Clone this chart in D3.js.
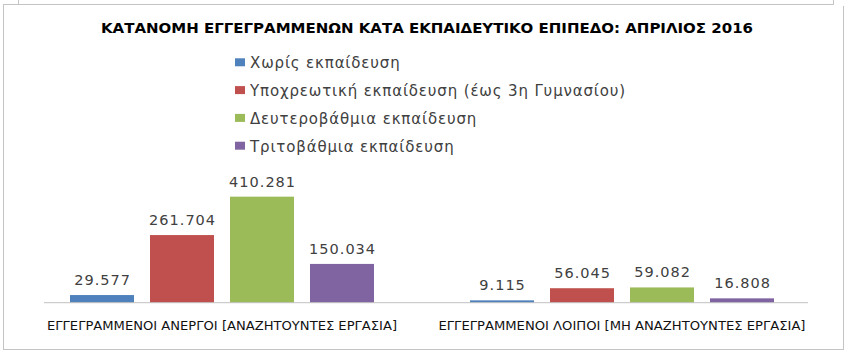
<!DOCTYPE html>
<html><head><meta charset="utf-8">
<script src="https://cdn.jsdelivr.net/npm/d3@7"></script>
<style>
html,body{margin:0;padding:0;background:#fff;}
svg{display:block;}
</style></head>
<body>
<svg id="chart" width="850" height="355"></svg>
<script>
const title = "ΚΑΤΑΝΟΜΗ ΕΓΓΕΓΡΑΜΜΕΝΩΝ ΚΑΤΑ ΕΚΠΑΙΔΕΥΤΙΚΟ ΕΠΙΠΕΔΟ: ΑΠΡΙΛΙΟΣ 2016";
const categories = ["ΕΓΓΕΓΡΑΜΜΕΝΟΙ ΑΝΕΡΓΟΙ [ΑΝΑΖΗΤΟΥΝΤΕΣ ΕΡΓΑΣΙΑ]", "ΕΓΓΕΓΡΑΜΜΕΝΟΙ ΛΟΙΠΟΙ [ΜΗ ΑΝΑΖΗΤΟΥΝΤΕΣ ΕΡΓΑΣΙΑ]"];
const seriesNames = ["Χωρίς εκπαίδευση", "Υποχρεωτική εκπαίδευση (έως 3η Γυμνασίου)", "Δευτεροβάθμια εκπαίδευση", "Τριτοβάθμια εκπαίδευση"];
const noEducation = [29577, 9115];
const compulsory = [261704, 56045];
const secondary = [410281, 59082];
const tertiary = [150034, 16808];
const seriesValues = [noEducation, compulsory, secondary, tertiary];
const colors = ["#4f81bd", "#c0504d", "#9bbb59", "#8064a2"];

const svg = d3.select("#chart");
const fmt = v => d3.format(",")(v).replace(/,/g, ".");

// frame
const g0 = svg.append("g").attr("stroke", "#c4c4c4").attr("stroke-width", 1).attr("fill", "none");
g0.append("line").attr("x1", 3).attr("x2", 834).attr("y1", 4.5).attr("y2", 4.5);
g0.append("line").attr("x1", 18.5).attr("x2", 18.5).attr("y1", 0).attr("y2", 4.5);
g0.append("line").attr("x1", 833.5).attr("x2", 833.5).attr("y1", 0).attr("y2", 4.5);
g0.append("line").attr("x1", 3.5).attr("x2", 3.5).attr("y1", 4.5).attr("y2", 349.5);
g0.append("line").attr("x1", 3).attr("x2", 844).attr("y1", 349.5).attr("y2", 349.5);
g0.append("line").attr("x1", 843.5).attr("x2", 843.5).attr("y1", 6).attr("y2", 349.5);

// title
svg.append("text").text(title)
  .attr("x", 427).attr("y", 33).attr("text-anchor", "middle")
  .attr("font-family", "DejaVu Sans").attr("font-weight", "bold").attr("font-size", 14)
  .attr("fill", "#000")
  .attr("textLength", 652).attr("lengthAdjust", "spacingAndGlyphs");

// legend
const leg = svg.append("g");
seriesNames.forEach((n, i) => {
  const by = 68.3 + i * 27.8;
  leg.append("rect").attr("x", 235).attr("y", by - 10).attr("width", 10).attr("height", 8).attr("fill", colors[i]);
  leg.append("text").text(n).attr("x", 250).attr("y", by)
    .attr("font-family", "DejaVu Sans").attr("font-size", 15).attr("letter-spacing", 0.85).attr("fill", "#404040");
});

// scales
const x0 = d3.scaleBand().domain(categories).range([22, 822]);
const x1 = d3.scaleBand().domain(d3.range(seriesNames.length)).range([-152, 152]).paddingInner(0.2);
const y = d3.scaleLinear().domain([0, 450000]).range([302.7, 186.4]);

const plot = svg.append("g");
categories.forEach((c, ci) => {
  const cx = x0(c) + x0.bandwidth() / 2;
  seriesValues.forEach((vals, si) => {
    const v = vals[ci];
    const bx = cx + x1(si);
    plot.append("rect").attr("x", bx).attr("width", x1.bandwidth())
      .attr("y", y(v)).attr("height", y(0) - y(v)).attr("fill", colors[si]);
    plot.append("text").text(fmt(v))
      .attr("x", bx + x1.bandwidth() / 2 + 0.6).attr("y", y(v) - 10)
      .attr("text-anchor", "middle")
      .attr("font-family", "DejaVu Sans").attr("font-size", 14.5)
      .attr("letter-spacing", 1.0).attr("fill", "#404040");
  });
});

// axis line
svg.append("line").attr("x1", 44).attr("x2", 808).attr("y1", y(0)).attr("y2", y(0))
  .attr("stroke", "#c0c0c0").attr("stroke-width", 1);

// category labels
const catWidths = [350, 367];
categories.forEach((c, ci) => {
  svg.append("text").text(c)
    .attr("x", x0(c) + x0.bandwidth() / 2).attr("y", 330)
    .attr("text-anchor", "middle")
    .attr("font-family", "DejaVu Sans").attr("font-size", 12.5).attr("fill", "#111")
    .attr("textLength", catWidths[ci]).attr("lengthAdjust", "spacingAndGlyphs");
});
</script>
</body></html>
